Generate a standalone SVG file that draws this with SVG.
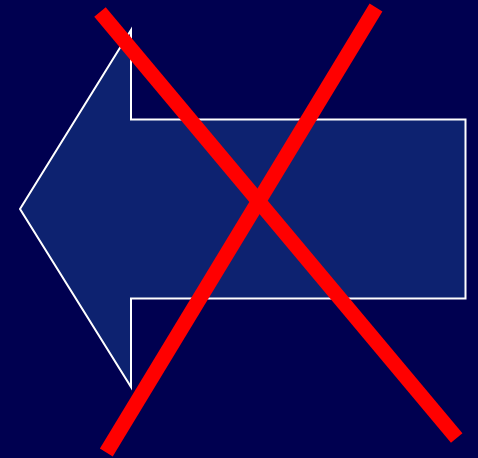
<svg xmlns="http://www.w3.org/2000/svg" width="478" height="458" viewBox="0 0 478 458">
<style>
.arrow{fill:#0d2270;stroke:#ffffff;stroke-width:2}
.x{stroke:#ff0000;stroke-width:15;stroke-linecap:butt}
</style>
<rect width="478" height="458" fill="#000050"/>
<g id="arrow">
<polygon class="arrow" points="20,209 131,30 131,119.5 465.5,119.5 465.5,298.5 131,298.5 131,387"/>
</g>
<g id="cross">
<line class="x" x1="100" y1="12" x2="456.7" y2="438"/>
<line class="x" x1="376" y1="7.5" x2="106.3" y2="452.5"/>
</g>
</svg>
